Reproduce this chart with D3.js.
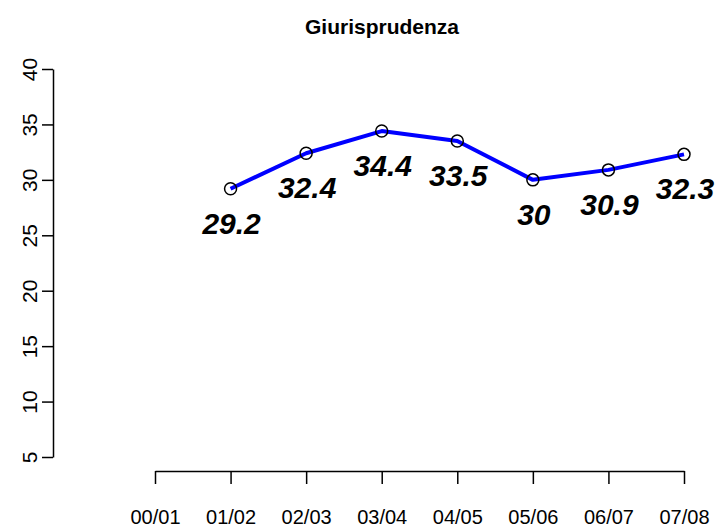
<!DOCTYPE html>
<html>
  <head>
    <title>Giurisprudenza</title>
    <style type="text/css">
        body{
            margin: 0;
            background: #ffffff;
        }
        svg text{
            font-family: "Liberation Sans", Arial, sans-serif;
            fill: #000000;
        }
        .axis line, .axis path{
            stroke: #000000;
            stroke-width: 1.5px;
            fill: none;
        }
    </style>
  </head>
  <body>
    <div id="chart"></div>

    <script src="https://cdn.jsdelivr.net/npm/d3@7"></script>
    <script>

        //  Data
        var years = ["00/01", "01/02", "02/03", "03/04", "04/05", "05/06", "06/07", "07/08"];
        var values = [null, 29.2, 32.4, 34.4, 33.5, 30, 30.9, 32.3];
        var yTicks = [5, 10, 15, 20, 25, 30, 35, 40];
        var title = "Giurisprudenza";

        var width = 719, height = 528;

        var svg = d3.select("#chart").append("svg")
            .attr("width", width)
            .attr("height", height);

        var x = d3.scalePoint().domain(years).range([155, 684]);
        var y = d3.scaleLinear().domain([5, 40]).range([457, 69]);

        //  Title
        svg.append("text")
            .attr("x", 382)
            .attr("y", 34)
            .attr("text-anchor", "middle")
            .style("font-size", "21px")
            .style("font-weight", "bold")
            .text(title);

        //  Y axis, R style: labels parallel to the axis
        var yAxis = svg.append("g")
            .attr("class", "axis")
            .attr("transform", "translate(53,0)")
            .call(d3.axisLeft(y).tickValues(yTicks).tickSize(11).tickSizeOuter(0));
        yAxis.selectAll("text").remove();
        yAxis.selectAll(".tick")
            .append("text")
            .attr("transform", "translate(-16,0) rotate(-90)")
            .attr("text-anchor", "middle")
            .style("font-size", "21px")
            .text(d => d);

        //  X axis
        var xAxis = svg.append("g")
            .attr("class", "axis")
            .attr("transform", "translate(0,471)")
            .call(d3.axisBottom(x).tickSize(13).tickSizeOuter(0));
        xAxis.selectAll("text")
            .attr("y", 53)
            .attr("dy", null)
            .style("font-size", "20px");

        var pts = years.map((d, i) => ({year: d, value: values[i]}))
            .filter(d => d.value !== null);

        //  Blue line through the points
        var line = d3.line()
            .x(d => x(d.year))
            .y(d => y(d.value));

        svg.append("path")
            .datum(pts)
            .attr("d", line)
            .attr("fill", "none")
            .attr("stroke", "#0000ff")
            .attr("stroke-width", 4)
            .attr("stroke-linejoin", "round");

        //  Open circles
        svg.selectAll("circle")
            .data(pts)
            .enter().append("circle")
            .attr("cx", d => x(d.year))
            .attr("cy", d => y(d.value))
            .attr("r", 6)
            .attr("fill", "none")
            .attr("stroke", "#000000")
            .attr("stroke-width", 1.5);

        //  Value labels under each point
        svg.selectAll(".value")
            .data(pts)
            .enter().append("text")
            .attr("class", "value")
            .attr("x", d => x(d.year) + 1)
            .attr("y", d => y(d.value) + 45)
            .attr("text-anchor", "middle")
            .style("font-size", "30px")
            .style("font-weight", "bold")
            .style("font-style", "italic")
            .text(d => d.value);

    </script>
  </body>
</html>
